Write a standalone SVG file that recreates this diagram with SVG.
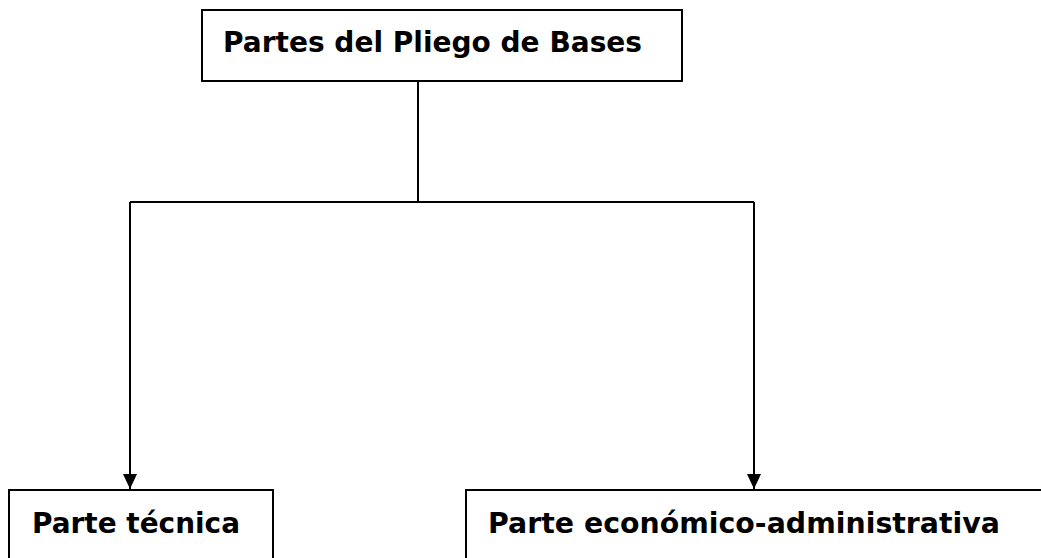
<svg xmlns="http://www.w3.org/2000/svg" width="1041" height="558" viewBox="0 0 1041 558">
<style>
.box{fill:#fff;stroke:#000;stroke-width:2}
.lbl{font-family:"DejaVu Sans","Liberation Sans",sans-serif;font-weight:bold;font-size:29px;fill:#000}
.con{fill:none;stroke:#000;stroke-width:2}
</style>
<defs>
<marker id="arr" markerUnits="userSpaceOnUse" markerWidth="15" markerHeight="14" refX="15" refY="7" orient="auto">
<path d="M0,0 L15,7 L0,14 Z" fill="#000"/>
</marker>
</defs>
<rect width="1041" height="558" fill="#fff"/>
<g id="connectors">
<polyline class="con" points="418,81 418,202"/>
<polyline class="con" points="130,202 754,202"/>
<line class="con" x1="130" y1="202" x2="130" y2="489" marker-end="url(#arr)"/>
<line class="con" x1="754" y1="202" x2="754" y2="489" marker-end="url(#arr)"/>
</g>
<g id="node-partes">
<rect class="box" x="202" y="10" width="480" height="71"/>
<text class="lbl" x="223" y="52" textLength="419" lengthAdjust="spacingAndGlyphs">Partes del Pliego de Bases</text>
</g>
<g id="node-tecnica">
<rect class="box" x="9" y="490" width="264" height="80"/>
<text class="lbl" x="32" y="533" textLength="208" lengthAdjust="spacingAndGlyphs">Parte técnica</text>
</g>
<g id="node-economico">
<rect class="box" x="466" y="490" width="600" height="80"/>
<text class="lbl" x="488" y="533" textLength="512" lengthAdjust="spacingAndGlyphs">Parte económico-administrativa</text>
</g>
</svg>
